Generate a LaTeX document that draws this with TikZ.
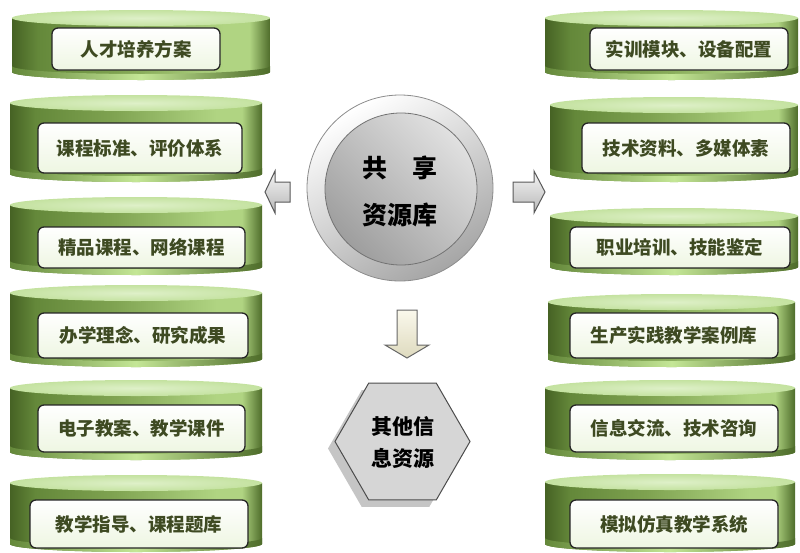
\documentclass[tikz,border=0pt]{standalone}
\usepackage{fontspec}
\newfontfamily\cjk{Noto Sans CJK SC}[BoldFont={Noto Sans CJK SC Black}]
\usetikzlibrary{shapes.geometric,shadows}
\definecolor{cdark}{RGB}{70,98,36}
\definecolor{cmid}{RGB}{100,136,58}
\definecolor{cmidb}{RGB}{126,162,80}
\definecolor{clight}{RGB}{176,212,130}
\definecolor{cedge}{RGB}{78,108,42}
\definecolor{ctop}{RGB}{196,226,160}
\definecolor{ctopin}{RGB}{222,240,200}
\definecolor{cglow}{RGB}{196,230,150}
\definecolor{cboxb}{RGB}{238,246,226}
\definecolor{ctext}{RGB}{62,74,34}
\definecolor{cream1}{RGB}{250,248,236}
\definecolor{cream2}{RGB}{222,218,190}
\pgfdeclarehorizontalshading{cylbody}{100bp}{color(0bp)=(cdark); color(25bp)=(cdark); color(30bp)=(cmid); color(45bp)=(cmidb); color(66bp)=(clight); color(71bp)=(clight); color(75bp)=(cedge); color(100bp)=(cedge)}
\newcommand\cylinder[4]{%
  \pgfmathsetmacro\cxm{(#1+#2)/2}%
  \pgfmathsetmacro\crx{(#2-#1)/2}%
  \pgfmathsetmacro\ctop{-(#3+8)}%
  \pgfmathsetmacro\cbot{-(#4-8)}%
  \pgfmathsetmacro\cbotb{-(#4-14)}%
  \shade[shading=cylbody] (#1,\ctop) -- (#1,\cbot) arc[start angle=180,end angle=360,x radius=\crx,y radius=8] -- (#2,\ctop) -- cycle;
  \shade[left color=cmid, right color=cedge, middle color=cglow] (#1,\cbot) arc[start angle=180,end angle=360,x radius=\crx,y radius=8] -- (#2,\cbotb) arc[start angle=0,end angle=-180,x radius=\crx,y radius=8] -- cycle;
  \shade[inner color=ctopin, outer color=ctop] (\cxm,\ctop) ellipse[x radius=\crx, y radius=8];
}
\tikzset{
  txtbox/.style={draw=black!85, line width=1.3pt, rounded corners=6pt, top color=white, bottom color=cboxb, text=ctext, font=\cjk\bfseries\fontsize{18.5}{20}\selectfont, inner sep=0pt},
  bigtxt/.style={text=black, font=\cjk\bfseries\fontsize{25}{27}\selectfont, inner sep=0pt},
  hextxt/.style={text=black, font=\cjk\bfseries\fontsize{21}{23}\selectfont, inner sep=0pt},
  grayarrow/.style={draw=black!65, line width=1pt, top color=black!4, bottom color=black!28},
  creamarrow/.style={draw=black!60, line width=1pt, top color=cream1, bottom color=cream2}
}
\begin{document}
\begin{tikzpicture}[x=1pt,y=1pt]
\useasboundingbox (0,0) rectangle (800,-552);
% left cylinders
\cylinder{12}{270}{10}{80}
\cylinder{10}{262}{95}{182}
\cylinder{10}{262}{197}{275}
\cylinder{10}{262}{285}{367}
\cylinder{10}{262}{380}{460}
\cylinder{10}{262}{475}{552}
% right cylinders
\cylinder{545}{798}{10}{80}
\cylinder{550}{798}{97}{182}
\cylinder{550}{798}{208}{275}
\cylinder{548}{795}{294}{367}
\cylinder{545}{795}{380}{460}
\cylinder{545}{795}{474}{552}
% left boxes
\node[txtbox, minimum width=168pt, minimum height=42pt] (l1) at (136,-49) {人才培养方案};
\node[txtbox, minimum width=204pt, minimum height=50pt] (l2) at (140,-148) {课程标准、评价体系};
\node[txtbox, minimum width=207pt, minimum height=41pt] (l3) at (141.5,-247.5) {精品课程、网络课程};
\node[txtbox, minimum width=210pt, minimum height=45pt] (l4) at (143,-335.5) {办学理念、研究成果};
\node[txtbox, minimum width=207pt, minimum height=47pt] (l5) at (141.5,-428.5) {电子教案、教学课件};
\node[txtbox, minimum width=218pt, minimum height=48pt] (l6) at (139,-524) {教学指导、课程题库};
% right boxes
\node[txtbox, minimum width=198pt, minimum height=42pt] (r1) at (689,-49) {实训模块、设备配置};
\node[txtbox, minimum width=208pt, minimum height=50pt] (r2) at (686,-148) {技术资料、多媒体素};
\node[txtbox, minimum width=220pt, minimum height=41pt] (r3) at (680,-247.5) {职业培训、技能鉴定};
\node[txtbox, minimum width=208pt, minimum height=45pt] (r4) at (674,-335.5) {生产实践教学案例库};
\node[txtbox, minimum width=208pt, minimum height=47pt] (r5) at (674,-428.5) {信息交流、技术咨询};
\node[txtbox, minimum width=208pt, minimum height=48pt] (r6) at (674,-524) {模拟仿真教学系统};
% center circle
\node[circle, minimum size=186pt, inner sep=0pt, draw=black!45, line width=.8pt, top color=white, bottom color=black!35, shading angle=30] (outer) at (400,-188) {};
\node[circle, minimum size=152pt, inner sep=0pt, draw=black!55, line width=.8pt, left color=black!38, right color=black!12, shading angle=135] (inner) at (401,-189) {};
\node[bigtxt] (c1) at (400,-168) {共\quad 享};
\node[bigtxt] (c2) at (400,-215) {资源库};
% arrows
\draw[grayarrow] (265,-192) -- (275,-171) -- (275,-182) -- (290,-182) -- (290,-202) -- (275,-202) -- (275,-213) -- cycle;
\draw[grayarrow] (545,-192) -- (534,-171) -- (534,-182) -- (513,-182) -- (513,-202) -- (534,-202) -- (534,-213) -- cycle;
\draw[creamarrow] (407,-358) -- (385,-345) -- (397,-345) -- (397,-310) -- (417,-310) -- (417,-345) -- (429,-345) -- cycle;
% hexagon
\node[regular polygon, regular polygon sides=6, minimum size=135pt, inner sep=0pt, draw=black!70, line width=1pt, fill=black!16, drop shadow={shadow xshift=-7pt, shadow yshift=-7pt, fill=black!45, opacity=.5}] (hex) at (402.5,-441.5) {};
\node[hextxt] (h1) at (403,-427) {其他信};
\node[hextxt] (h2) at (403,-458) {息资源};
\end{tikzpicture}
\end{document}
